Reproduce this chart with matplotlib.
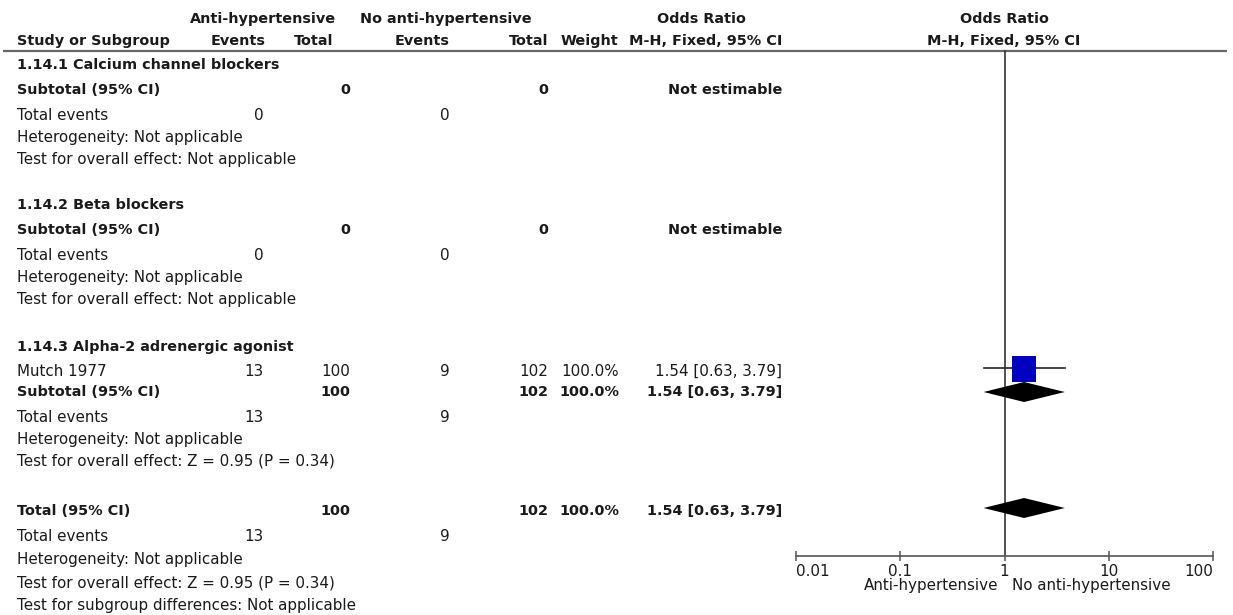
import numpy as np
import matplotlib
matplotlib.use("Agg")
import matplotlib.pyplot as plt
from matplotlib.patches import Rectangle, Polygon

# --- data ---
subgroups = ["1.14.1 Calcium channel blockers", "1.14.2 Beta blockers",
             "1.14.3 Alpha-2 adrenergic agonist"]
studies = [[], [], ["Mutch 1977"]]
study_exp_events = [[], [], [13]]
study_exp_total = [[], [], [100]]
study_ctl_events = [[], [], [9]]
study_ctl_total = [[], [], [102]]
study_weight = [[], [], [100.0]]
study_or = [[], [], [1.54]]
study_lo = [[], [], [0.63]]
study_hi = [[], [], [3.79]]

sub_exp_events = [0, 0, 13]
sub_exp_total = [0, 0, 100]
sub_ctl_events = [0, 0, 9]
sub_ctl_total = [0, 0, 102]
sub_weight = [None, None, 100.0]
sub_or = [None, None, 1.54]
sub_lo = [None, None, 0.63]
sub_hi = [None, None, 3.79]
sub_het = ["Not applicable", "Not applicable", "Not applicable"]
sub_effect = ["Not applicable", "Not applicable", "Z = 0.95 (P = 0.34)"]

tot_exp_events, tot_exp_total = 13, 100
tot_ctl_events, tot_ctl_total = 9, 102
tot_weight, tot_or, tot_lo, tot_hi = 100.0, 1.54, 0.63, 3.79
tot_het = "Not applicable"
tot_effect = "Z = 0.95 (P = 0.34)"
subgroup_diff = "Not applicable"

axis_ticks = [0.01, 0.1, 1, 10, 100]
axis_labels = ["0.01", "0.1", "1", "10", "100"]

# --- layout (pixels) ---
W, H = 1233, 615
FS = 10.9      # regular text
FSB = 10.4     # bold text
TC = "#1a1a1a"
X_LABEL = 17
X_EXP_EV, X_EXP_TOT = 264, 350
X_CTL_EV, X_CTL_TOT = 450, 548
X_WEIGHT, X_OR = 619, 782
PLOT_L, PLOT_R = 796, 1213

fig = plt.figure(figsize=(W / 100, H / 100), dpi=100)
ax = fig.add_axes([0, 0, 1, 1])
ax.set_xlim(0, W)
ax.set_ylim(H, 0)
ax.axis("off")

fax = fig.add_axes([PLOT_L / W, 0, (PLOT_R - PLOT_L) / W, 1])
fax.set_xscale("log")
fax.set_xlim(0.01, 100)
fax.set_ylim(H, 0)
fax.patch.set_alpha(0)


def txt(x, y, s, ha="left", bold=False):
    ax.text(x, y, s, ha=ha, va="baseline", fontsize=FSB if bold else FS, color=TC,
            fontweight="bold" if bold else "normal")


def fmt_or(o, lo, hi):
    return f"{o:.2f} [{lo:.2f}, {hi:.2f}]"


# headers
txt(263, 23, "Anti-hypertensive", ha="center", bold=True)
txt(446, 23, "No anti-hypertensive", ha="center", bold=True)
txt(701, 23, "Odds Ratio", ha="center", bold=True)
txt(1004, 23, "Odds Ratio", ha="center", bold=True)
txt(X_LABEL, 45, "Study or Subgroup", bold=True)
txt(265, 45, "Events", ha="right", bold=True)
txt(333, 45, "Total", ha="right", bold=True)
txt(449, 45, "Events", ha="right", bold=True)
txt(548, 45, "Total", ha="right", bold=True)
txt(618, 45, "Weight", ha="right", bold=True)
txt(X_OR, 45, "M-H, Fixed, 95% CI", ha="right", bold=True)
txt(1004, 45, "M-H, Fixed, 95% CI", ha="center", bold=True)
ax.plot([3, 1227], [51, 51], color="#666666", lw=1.6, solid_capstyle="butt")


def diamond(y, o, lo, hi, h=10):
    fax.add_patch(Polygon([[lo, y], [o, y - h], [hi, y], [o, y + h]],
                          closed=True, color="black", zorder=4, lw=0))


section_top = [69, 209, 351]
for i, name in enumerate(subgroups):
    y = section_top[i]
    txt(X_LABEL, y, name, bold=True)
    y += 25
    for j, st in enumerate(studies[i]):
        txt(X_LABEL, y, st)
        txt(X_EXP_EV, y, str(study_exp_events[i][j]), ha="right")
        txt(X_EXP_TOT, y, str(study_exp_total[i][j]), ha="right")
        txt(X_CTL_EV, y, str(study_ctl_events[i][j]), ha="right")
        txt(X_CTL_TOT, y, str(study_ctl_total[i][j]), ha="right")
        txt(X_WEIGHT, y, f"{study_weight[i][j]:.1f}%", ha="right")
        txt(X_OR, y, fmt_or(study_or[i][j], study_lo[i][j], study_hi[i][j]), ha="right")
        # square + CI
        ym = y - 8
        fax.plot([study_lo[i][j], study_hi[i][j]], [ym, ym], color="#222222", lw=1.2, zorder=2)
        half = 0.115 * np.sqrt(study_weight[i][j] / 100)
        lc = np.log10(study_or[i][j])
        fax.add_patch(Rectangle((10 ** (lc - half), ym - 12), 10 ** (lc + half) - 10 ** (lc - half), 26,
                                color="#0000c0", lw=0, zorder=3))
        y += 20
    txt(X_LABEL, y, "Subtotal (95% CI)", bold=True)
    txt(X_EXP_TOT, y, str(sub_exp_total[i]), ha="right", bold=True)
    txt(X_CTL_TOT, y, str(sub_ctl_total[i]), ha="right", bold=True)
    if sub_or[i] is None:
        txt(X_OR, y, "Not estimable", ha="right", bold=True)
    else:
        txt(X_WEIGHT, y, f"{sub_weight[i]:.1f}%", ha="right", bold=True)
        txt(X_OR, y, fmt_or(sub_or[i], sub_lo[i], sub_hi[i]), ha="right", bold=True)
        diamond(y - 4, sub_or[i], sub_lo[i], sub_hi[i])
    y += 26
    txt(X_LABEL, y, "Total events")
    txt(X_EXP_EV, y, str(sub_exp_events[i]), ha="right")
    txt(X_CTL_EV, y, str(sub_ctl_events[i]), ha="right")
    y += 22
    txt(X_LABEL, y, "Heterogeneity: " + sub_het[i])
    y += 22
    txt(X_LABEL, y, "Test for overall effect: " + sub_effect[i])

# overall total
y = 515
txt(X_LABEL, y, "Total (95% CI)", bold=True)
txt(X_EXP_TOT, y, str(tot_exp_total), ha="right", bold=True)
txt(X_CTL_TOT, y, str(tot_ctl_total), ha="right", bold=True)
txt(X_WEIGHT, y, f"{tot_weight:.1f}%", ha="right", bold=True)
txt(X_OR, y, fmt_or(tot_or, tot_lo, tot_hi), ha="right", bold=True)
diamond(y - 7, tot_or, tot_lo, tot_hi)
txt(X_LABEL, 541, "Total events")
txt(X_EXP_EV, 541, str(tot_exp_events), ha="right")
txt(X_CTL_EV, 541, str(tot_ctl_events), ha="right")
txt(X_LABEL, 564, "Heterogeneity: " + tot_het)
txt(X_LABEL, 587, "Test for overall effect: " + tot_effect)
txt(X_LABEL, 610, "Test for subgroup differences: " + subgroup_diff)

# null line and axis
fax.plot([1, 1], [51, 556], color="#333333", lw=1.2, zorder=1)
for side in ["top", "left", "right"]:
    fax.spines[side].set_visible(False)
fax.spines["bottom"].set_position(("data", 556))
fax.spines["bottom"].set_color("#555555")
fax.spines["bottom"].set_linewidth(1.2)
fax.set_yticks([])
fax.set_xticks(axis_ticks, axis_labels)
fax.minorticks_off()
fax.tick_params(axis="x", direction="inout", length=7.5, width=1.1, color="#555555",
                labelsize=FS, labelcolor=TC, pad=2)
tl = fax.get_xticklabels()
tl[0].set_ha("left")
tl[-1].set_ha("right")

txt(998, 590, "Anti-hypertensive", ha="right")
txt(1012, 590, "No anti-hypertensive", ha="left")

fig.savefig("out.png", dpi=100)
